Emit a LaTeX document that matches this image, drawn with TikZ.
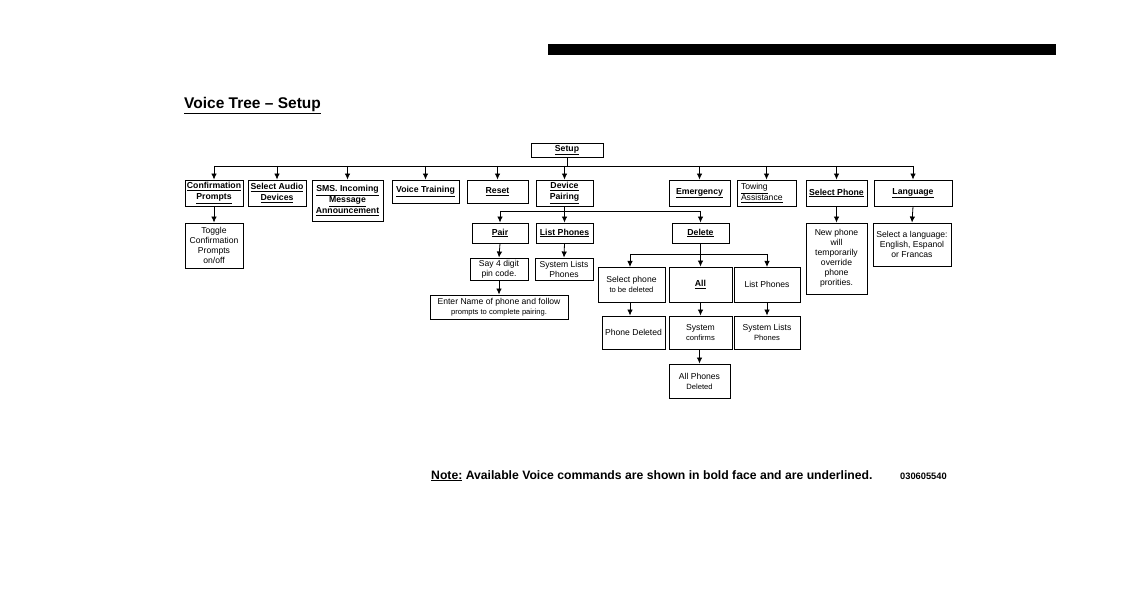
\documentclass[tikz,border=0pt]{standalone}
\usepackage{fontspec}
\setmainfont{Liberation Sans}
\usetikzlibrary{arrows.meta}
\tikzset{
  box/.style={draw, line width=0.9pt, inner sep=0pt, align=center, text=black},
  cmd/.style={box, font=\fontsize{8.7}{10.8}\selectfont\bfseries},
  desc/.style={box, font=\fontsize{8.6}{10}\selectfont},
  arr/.style={line width=0.8pt, -{Latex[length=6pt,width=5.5pt]}},
  ln/.style={line width=0.8pt}
}
\newcommand\bx[7]{\node[#1, minimum width={(#5-#3)*1pt}, minimum height={(#6-#4)*1pt}] (#2) at ({(#3+#5)/2},{(#4+#6)/2}) {#7};}
\newcommand\ul[1]{\underline{#1}}
\newcommand\sm{\fontsize{7.6}{9}\selectfont}
\begin{document}
\begin{tikzpicture}[x=1pt,y=-1pt]
\useasboundingbox (0,0) rectangle (1133,593);
\fill (548,44) rectangle (1056,55);
\node[anchor=base west, font=\fontsize{15.5}{18}\selectfont\bfseries, inner sep=0pt] (title) at (184,109) {\ul{Voice Tree – Setup}};

% top
\bx{cmd}{setup}{531}{143}{603}{157}{\ul{Setup}}
\bx{cmd}{conf}{185}{180}{243}{206}{\ul{Confirmation}\\\ul{Prompts}}
\bx{cmd}{audio}{248}{180}{306}{206}{\ul{Select Audio}\\\ul{Devices}}
\bx{cmd}{sms}{312}{180}{383}{221}{\ul{SMS. Incoming}\\\ul{Message}\\\ul{Announcement}}
\bx{cmd}{voice}{392}{180}{459}{203}{\ul{Voice Training}}
\bx{cmd}{reset}{467}{180}{528}{203}{\ul{Reset}}
\bx{cmd}{pairing}{536}{180}{593}{206}{\ul{Device}\\\ul{Pairing}}
\bx{cmd}{emerg}{669}{180}{730}{206}{\ul{Emergency}}
\node[box, font=\fontsize{8.6}{10.8}\selectfont, align=left, minimum width=59pt, minimum height=26pt, text width=51pt] (tow) at (766.5,193) {\ul{Towing}\\\ul{Assistance}};
\bx{cmd}{selph}{806}{180}{867}{206}{\ul{Select Phone}}
\bx{cmd}{lang}{874}{180}{952}{206}{\ul{Language}}

\coordinate (bus) at (0,166);
\draw[ln] (conf.north |- bus) -- (lang.north |- bus);
\draw[ln] (setup.south) -- (setup.south |- bus);
\foreach \n in {conf,audio,sms,voice,reset,pairing,emerg,tow,selph,lang}
  \draw[arr] (\n.north |- bus) -- (\n.north);

% second level
\bx{desc}{toggle}{185}{223}{243}{268}{Toggle\\Confirmation\\Prompts\\on/off}
\draw[arr] (conf.south) -- (toggle.north);
\bx{desc}{newph}{806}{223}{867}{294}{New phone\\will\\temporarily\\override\\phone\\prorities.}
\draw[arr] (selph.south) -- (newph.north);
\bx{desc}{sellang}{873}{223}{951}{266}{Select a language:\\English, Espanol\\or Francas}
\draw[arr] (lang.south) -- (sellang.north);

% device pairing subtree
\bx{cmd}{pair}{472}{223}{528}{243}{\ul{Pair}}
\bx{cmd}{listph}{536}{223}{593}{243}{\ul{List Phones}}
\bx{cmd}{delete}{672}{223}{729}{243}{\ul{Delete}}
\coordinate (bus2) at (0,211);
\draw[ln] (pairing.south) -- (pairing.south |- bus2);
\draw[ln] (pair.north |- bus2) -- (delete.north |- bus2);
\foreach \n in {pair,listph,delete}
  \draw[arr] (\n.north |- bus2) -- (\n.north);

\bx{desc}{say}{470}{258}{528}{280}{Say 4 digit\\pin code.}
\draw[arr] (pair.south) -- (say.north);
\bx{desc}{sysl}{535}{258}{593}{280}{System Lists\\Phones}
\draw[arr] (listph.south) -- (sysl.north);
\bx{desc}{enter}{430}{295}{568}{319}{Enter Name of phone and follow\\{\sm prompts to complete pairing.}}
\draw[arr] (say.south) -- (enter.north -| say.south);

% delete subtree
\bx{desc}{selph2}{598}{267}{665}{302}{Select phone\\{\sm to be deleted}}
\bx{cmd}{all}{669}{267}{732}{302}{\ul{All}}
\bx{desc}{list2}{734}{267}{800}{302}{List Phones}
\coordinate (bus3) at (0,254);
\draw[ln] (delete.south) -- (delete.south |- bus3);
\draw[ln] (630,254) -- (767,254);
\draw[arr] (630,254) -- (630,267);
\draw[arr] (all.north |- bus3) -- (all.north);
\draw[arr] (767,254) -- (767,267);

\bx{desc}{phdel}{602}{316}{665}{349}{Phone Deleted}
\draw[arr] (selph2.south -| 630,0) -- (phdel.north -| 630,0);
\bx{desc}{syscon}{669}{316}{732}{349}{System\\{\sm confirms}}
\draw[arr] (all.south) -- (syscon.north);
\bx{desc}{sysl2}{734}{316}{800}{349}{System Lists\\{\sm Phones}}
\draw[arr] (list2.south -| 767,0) -- (sysl2.north -| 767,0);
\bx{desc}{allph}{669}{364}{730}{398}{All Phones\\{\sm Deleted}}
\draw[arr] (syscon.south -| allph.north) -- (allph.north);

% note
\node[anchor=base west, inner sep=0pt, font=\fontsize{12.2}{14}\selectfont\bfseries] (note) at (431,479) {\ul{Note:} Available Voice commands are shown in bold face and are underlined.};
\node[anchor=base west, inner sep=0pt, font=\fontsize{9.3}{11}\selectfont\bfseries] (code) at (900,479) {030605540};
\end{tikzpicture}
\end{document}
